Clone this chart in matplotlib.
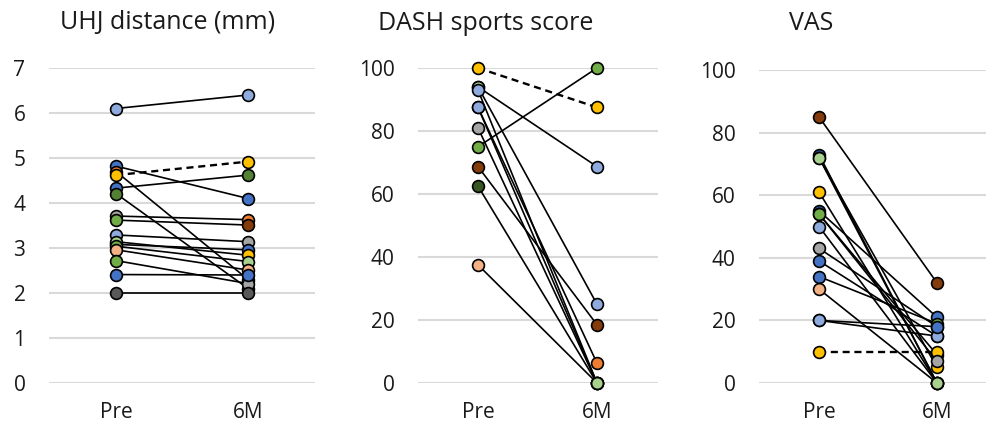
import matplotlib

matplotlib.use("Agg")
import matplotlib.pyplot as plt

plt.rcParams["font.family"] = ["Open Sans", "DejaVu Sans"]

categories = ["Pre", "6M"]

# UHJ distance (mm)
uhj_pre = [6.1, 4.82, 4.7, 4.62, 4.33, 4.21, 3.71, 3.62, 3.29, 3.08, 3.14, 3.04, 2.96, 2.72, 2.41, 2.0]
uhj_post = [6.4, 4.1, 2.3, 4.92, 4.62, 2.1, 3.63, 3.51, 3.14, 2.96, 2.84, 2.7, 2.51, 2.21, 2.4, 2.0]

# DASH sports score
dash_pre = [100, 94, 94, 93, 87.5, 87.5, 81, 75, 68.7, 62.5, 37.5]
dash_post = [87.5, 68.7, 25, 0, 0, 6.3, 0, 100, 18.5, 0, 0]

# VAS
vas_pre = [85, 73, 72, 61, 55, 54, 50, 43, 39, 34, 30, 20, 10, 72, 54, 20]
vas_post = [32, 0, 5, 0, 21, 9, 0, 18, 15, 19, 0, 15, 10, 0, 7, 18]

C = {
    "lb": "#8FAADC", "bl": "#4472C4", "db": "#2F5597", "or": "#ED7D31",
    "ye": "#FFC000", "gr": "#A5A5A5", "dg": "#595959", "gn": "#70AD47",
    "lg": "#A9D18E", "dk": "#548235", "br": "#843C0C", "pe": "#F4B183",
    "bk": "#375623",
}

uhj_pre_col = ["lb", "bl", "or", "ye", "bl", "dk", "gr", "gn", "lb", "lg", "lg", "gn", "pe", "gn", "bl", "dg"]
uhj_post_col = ["lb", "bl", "gr", "ye", "dk", "gn", "or", "br", "gr", "bl", "ye", "lg", "pe", "gr", "bl", "dg"]
dash_pre_col = ["ye", "bk", "lg", "lb", "lb", "lb", "gr", "gn", "br", "bk", "pe"]
dash_post_col = ["ye", "lb", "lb", "lg", "lg", "or", "lg", "gn", "br", "lg", "lg"]
vas_pre_col = ["br", "db", "lg", "ye", "db", "gn", "lb", "gr", "bl", "bl", "pe", "lb", "ye", "lg", "gn", "lb"]
vas_post_col = ["br", "lg", "ye", "lg", "bl", "lb", "lg", "bl", "lb", "gn", "lg", "lb", "ye", "lg", "gr", "bl"]

# title, pre, post, colours, dashed row, ticks, ylim, axis pixels, pre x, step, title x, top px
panels = [
    ("UHJ distance (mm)", uhj_pre, uhj_post, uhj_pre_col, uhj_post_col, 3, range(0, 8),
     (0, 7), [49, 315], 116, 132, 168, 68),
    ("DASH sports score", dash_pre, dash_post, dash_pre_col, dash_post_col, 0, range(0, 101, 20),
     (0, 100), [418, 658], 478, 119, 486, 68),
    ("VAS", vas_pre, vas_post, vas_pre_col, vas_post_col, 12, range(0, 101, 20),
     (0, 100), [759, 986], 819, 118, 811, 70),
]

W, H = 986, 430
fig = plt.figure(figsize=(W / 100, H / 100), dpi=100)

for (title, pre, post, pre_col, post_col, dashed, ticks, ylim,
     xpix, pre_x, step, title_x, top) in panels:
    bottom = 383
    ax = fig.add_axes([xpix[0] / W, 1 - bottom / H, (xpix[1] - xpix[0]) / W, (bottom - top) / H])
    ax.set_xlim(-(pre_x - xpix[0]) / step, (xpix[1] - pre_x) / step)
    ax.set_ylim(*ylim)
    for i, (a, b) in enumerate(zip(pre, post)):
        ls = (0, (3, 2)) if i == dashed else "-"
        ax.plot([0, 1], [a, b], color="black", lw=1.7 if i == dashed else 1.2, ls=ls,
                zorder=3, clip_on=False)
    for i, (a, b) in enumerate(zip(pre, post)):
        for x, v, c in ((0, a, pre_col[i]), (1, b, post_col[i])):
            ax.plot(x, v, "o", ms=8.5, mfc=C[c], mec="black", mew=1.2, zorder=4, clip_on=False)
    ax.set_yticks(list(ticks))
    ax.set_xticks([0, 1], labels=categories)
    ax.grid(axis="y", color="#D9D9D9", lw=1.5)
    ax.set_axisbelow(True)
    for s in ax.spines.values():
        s.set_visible(False)
    ax.tick_params(axis="both", length=0, labelsize=15, colors="#1a1a1a")
    ax.tick_params(axis="y", pad=17)
    ax.tick_params(axis="x", pad=14)
    fig.text(title_x / W, 1 - 23 / H, title, ha="center", va="center", fontsize=18, color="#1a1a1a")

fig.savefig("out.png", dpi=100, facecolor="white")
